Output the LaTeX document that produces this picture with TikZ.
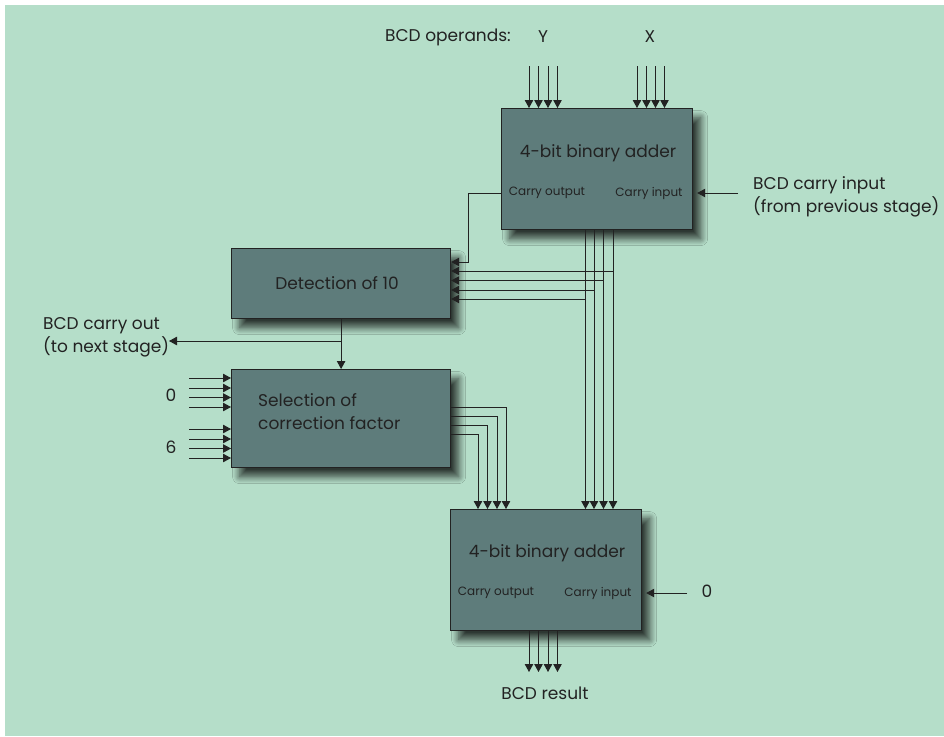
\documentclass[tikz,border=0pt]{standalone}
\usepackage{fontspec}
\setmainfont{Poppins}
\usetikzlibrary{arrows.meta,shadows.blur}
\definecolor{bg}{HTML}{B5DEC9}
\definecolor{boxfill}{HTML}{5E7C7B}
\definecolor{ink}{HTML}{222222}
\begin{document}
\begin{tikzpicture}[x=1pt,y=-1pt,
  blk/.style={draw=ink, line width=1.2pt, fill=boxfill, anchor=north west, inner sep=0pt,
    blur shadow={shadow xshift=8pt, shadow yshift=-9pt, shadow blur radius=7pt, shadow blur steps=12, shadow opacity=75}},
  wire/.style={draw=ink, line width=0.9pt},
  arr/.style={wire, -{Triangle[length=8pt,width=8.5pt]}},
  lbl/.style={text=ink, font=\fontsize{17}{23}\selectfont, inner sep=0pt},
  small/.style={text=ink, font=\fontsize{12}{14}\selectfont, inner sep=0pt}]
\useasboundingbox (0,0) rectangle (944,736);
\fill[white] (0,0) rectangle (944,736);
\fill[bg] (5,5) rectangle (944,736);

% blocks
\node[blk, minimum width=191pt, minimum height=121pt] (addA) at (501,108) {};
\node[blk, minimum width=219pt, minimum height=70pt] (det) at (231,248) {};
\node[blk, minimum width=219pt, minimum height=98pt] (sel) at (231,369) {};
\node[blk, minimum width=191pt, minimum height=121pt] (addB) at (450,509) {};

% texts
\node[lbl] (addAt) at (598,153) {4-bit binary adder};
\node[small] (addAco) at (547,193) {Carry output};
\node[small] (addAci) at (649,193) {Carry input};
\node[lbl] (opl) at (448,37) {BCD operands:};
\node[lbl] (Yl) at (543,37) {Y};
\node[lbl] (Xl) at (650,37) {X};
\node[lbl, align=left, anchor=west] (cinl) at (753,197) {BCD carry input\\(from previous stage)};
\node[lbl] (dett) at (337,283) {Detection of 10};
\node[lbl, align=left, anchor=west] (selt) at (258,412) {Selection of\\correction factor};
\node[lbl, align=left, anchor=west] (coutl) at (43,337) {BCD carry out\\(to next stage)};
\node[lbl] (zl) at (171,395) {0};
\node[lbl] (sl) at (171,447) {6};
\node[lbl] (addBt) at (547,553) {4-bit binary adder};
\node[small] (addBco) at (496,593) {Carry output};
\node[small] (addBci) at (598,593) {Carry input};
\node[lbl] (zBl) at (707,591) {0};
\node[lbl] (resl) at (545,693) {BCD result};

% operand inputs
\foreach \x/\n in {529/y1,538.5/y2,548/y3,557.5/y4,637/x1,646.5/x2,655.5/x3,664.5/x4}{
  \coordinate (\n) at (\x,66);
  \draw[arr] (\n) -- (\n |- addA.north);
}
% carry input of first adder
\coordinate (cinA) at (738,193);
\draw[arr, shorten >=4pt] (cinA) -- (cinA -| addA.east);
% carry output of first adder to detection
\coordinate (coA) at (468,193);
\coordinate (coB) at (468,262);
\draw[arr] (coA -| addA.west) -- (coA) -- (coB) -- (coB -| det.east);
% sum bus
\foreach \x/\y/\n in {613/271/b1,603.5/280.5/b2,594/290/b3,585.5/299/b4}{
  \coordinate (\n) at (\x,229);
  \coordinate (\n h) at (\x,\y);
  \draw[arr] (\n) -- (\n |- addB.north);
  \draw[arr] (\n h) -- (\n h -| det.east);
}
% detection to selection
\draw[arr] (det.south) -- (sel.north);
\coordinate (cob) at (det.south |- 0,341);
\coordinate (coe) at (169,341);
\draw[arr] (cob) -- (coe);
% constant inputs to selection
\foreach \y/\n in {378/c1,388/c2,397.5/c3,407/c4,429/c5,439/c6,448.5/c7,458/c8}{
  \coordinate (\n) at (189,\y);
  \draw[arr] (\n) -- (\n -| sel.west);
}
% selection outputs to second adder
\foreach \x/\y/\n in {506/407/s1,497/416/s2,487.5/425/s3,478/434/s4}{
  \coordinate (\n) at (\x,\y);
  \draw[arr] (\n -| sel.east) -- (\n) -- (\n |- addB.north);
}
% carry input of second adder
\coordinate (cinB) at (687,593);
\draw[arr, shorten >=4pt] (cinB) -- (cinB -| addB.east);
% result
\foreach \x/\n in {529/r1,538.5/r2,548/r3,557.5/r4}{
  \coordinate (\n) at (\x,672);
  \draw[arr] (\n |- addB.south) -- (\n);
}
\end{tikzpicture}
\end{document}
